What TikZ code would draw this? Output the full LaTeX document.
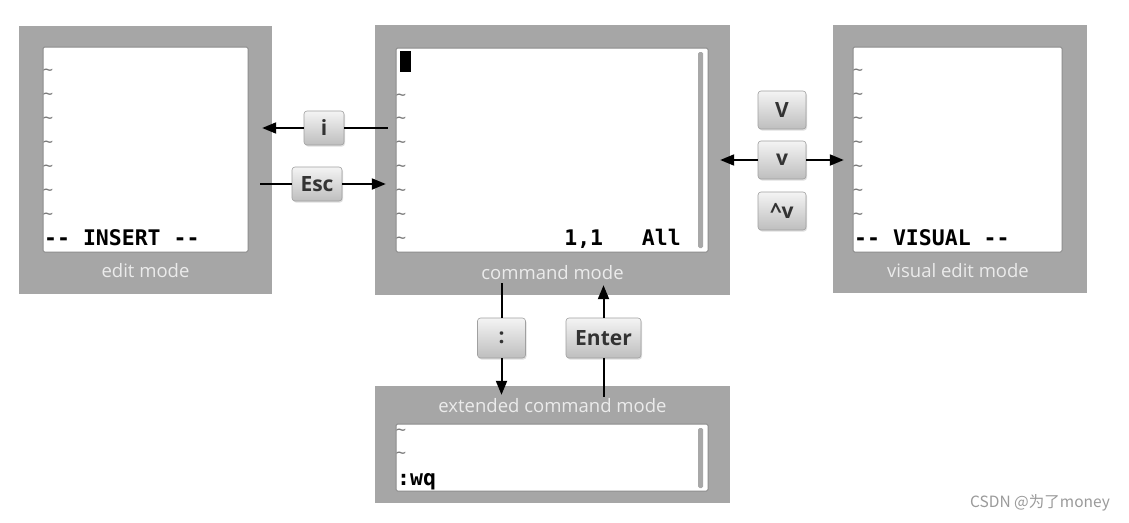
\documentclass[tikz,border=0pt]{standalone}
\usepackage{fontspec}
\setmainfont{Open Sans}
\newfontfamily\monofont{DejaVu Sans Mono}
\newfontfamily\cjk{Noto Sans CJK SC}
\usetikzlibrary{arrows.meta,shadows}
\definecolor{framegray}{HTML}{A6A6A6}
\definecolor{labelgray}{HTML}{EBEBEB}
\definecolor{screenedge}{HTML}{8A8A8A}
\definecolor{tildegray}{HTML}{7A7A7A}
\definecolor{scrollgray}{HTML}{A8A8A8}
\definecolor{keytop}{HTML}{F4F4F4}
\definecolor{keybot}{HTML}{BEBEBE}
\definecolor{keyedge}{HTML}{A0A0A0}
\definecolor{keytext}{HTML}{333333}
\definecolor{wmgray}{HTML}{9A9A9A}
\begin{document}
\begin{tikzpicture}[x=1pt,y=-1pt,
  frame/.style={fill=framegray, draw=none, inner sep=0},
  screen/.style={fill=white, draw=screenedge, line width=1pt, rounded corners=1.5pt, inner sep=0},
  flabel/.style={text=labelgray, font=\fontsize{18.5}{18.5}\selectfont, inner sep=0},
  mono/.style={font=\monofont\bfseries\fontsize{21.5}{21.5}\selectfont, text=black, inner sep=0},
  tilde/.style={font=\monofont\fontsize{17}{17}\selectfont, text=tildegray, inner sep=0},
  keybox/.style={rounded corners=3pt, top color=keytop, bottom color=keybot, draw=keyedge,
    line width=0.6pt, font=\bfseries\fontsize{21}{21}\selectfont, text=keytext, inner sep=0,
    drop shadow={opacity=0.25, shadow xshift=1pt, shadow yshift=-1.5pt}},
  ln/.style={line width=2pt, draw=black},
  arr/.style={line width=2pt, draw=black, -{Triangle[length=14pt,width=11pt]}}
]
\useasboundingbox[fill=white] (0,0) rectangle (1129,522);

% ---------- edit mode ----------
\node[frame, minimum width=253pt, minimum height=268pt] (ins) at (145.5,160) {};
\node[screen, minimum width=205pt, minimum height=205pt] (insS) at (145.5,149.5) {};
\node[flabel] (insL) at (145.5,271) {edit mode};
\foreach \yy [count=\k] in {72,96,120,144,168,192,216}
  \node[tilde] (tI\k) at (48,\yy) {\textasciitilde};
\node[mono, anchor=base west] (insM) at (44,245) {-{}- INSERT -{}-};

% ---------- command mode ----------
\node[frame, minimum width=355pt, minimum height=270pt] (cmd) at (552.5,160) {};
\node[screen, minimum width=312pt, minimum height=204pt] (cmdS) at (552,150) {};
\node[flabel] (cmdL) at (552.5,273) {command mode};
\node[fill=black, minimum width=11pt, minimum height=21pt, inner sep=0] (cursor) at (405,61.5) {};
\foreach \yy [count=\k] in {97,120,144,168,192,216,240}
  \node[tilde] (tC\k) at (401,\yy) {\textasciitilde};
\node[fill=scrollgray, minimum width=5pt, minimum height=196pt, inner sep=0, rounded corners=1.5pt] (cmdScroll) at (700.5,150) {};
\node[mono, anchor=base east] (pos) at (681,245) {1,1\ \ \ All};

% ---------- visual edit mode ----------
\node[frame, minimum width=254pt, minimum height=268pt] (vis) at (960,159) {};
\node[screen, minimum width=209pt, minimum height=205pt] (visS) at (957.5,149.5) {};
\node[flabel] (visL) at (958,271) {visual edit mode};
\foreach \yy [count=\k] in {72,96,120,144,168,192,216}
  \node[tilde] (tV\k) at (858,\yy) {\textasciitilde};
\node[mono, anchor=base west] (visM) at (854,245) {-{}- VISUAL -{}-};

% ---------- extended command mode ----------
\node[frame, minimum width=355pt, minimum height=117pt] (ext) at (552.5,444.5) {};
\node[flabel] (extL) at (552.5,406) {extended command mode};
\node[screen, minimum width=312pt, minimum height=67pt] (extS) at (552,457.5) {};
\node[tilde] (tE1) at (401,432) {\textasciitilde};
\node[tilde] (tE2) at (401,455) {\textasciitilde};
\node[fill=scrollgray, minimum width=5pt, minimum height=60pt, inner sep=0, rounded corners=1.5pt] (extScroll) at (700.5,458) {};
\node[mono, anchor=base west] (wq) at (397,485) {:wq};

% ---------- keys ----------
\node[keybox, minimum width=40pt, minimum height=34pt] (ikey) at (324,128) {i};
\node[keybox, minimum width=50pt, minimum height=34pt] (esc) at (317,184) {Esc};
\node[keybox, minimum width=48pt, minimum height=38pt] (Vkey) at (782,110) {V};
\node[keybox, minimum width=48pt, minimum height=38pt] (vkey) at (782,160) {v};
\node[keybox, minimum width=48pt, minimum height=38pt] (cvkey) at (782,211) {\textasciicircum v};
\node[keybox, minimum width=48pt, minimum height=40pt] (colon) at (501.5,338) {:};
\node[keybox, minimum width=75pt, minimum height=40pt] (enter) at (603.5,338) {Enter};

% ---------- connector end points ----------
\coordinate (cmdW1) at ([xshift=13pt]cmd.west);
\coordinate (cmdW2) at ([xshift=11pt]cmd.west);
\coordinate (insE1) at ([xshift=-10pt]ins.east);
\coordinate (insE2) at ([xshift=-12pt]ins.east);
\coordinate (cmdE) at ([xshift=-10pt]cmd.east);
\coordinate (visW) at ([xshift=11pt]vis.west);
\coordinate (cmdB1) at ([yshift=12pt]cmd.south);
\coordinate (cmdB2) at ([yshift=10pt]cmd.south);
\coordinate (extT1) at ([yshift=-9pt]ext.north);
\coordinate (extT2) at ([yshift=-11pt]ext.north);

% ---------- connectors ----------
\draw[ln] (cmdW1 |- ikey.east) -- (ikey.east);
\draw[arr] (ikey.west) -- (insE1 |- ikey.west);
\draw[ln] (insE2 |- esc.west) -- (esc.west);
\draw[arr] (esc.east) -- (cmdW2 |- esc.east);
\draw[arr] (vkey.west) -- (cmdE |- vkey.west);
\draw[arr] (vkey.east) -- (visW |- vkey.east);
\draw[ln] (colon.north |- cmdB1) -- (colon.north);
\draw[arr] (colon.south) -- (colon.south |- extT1);
\draw[ln] (enter.south |- extT2) -- (enter.south);
\draw[arr] (enter.north) -- (enter.north |- cmdB2);

% ---------- watermark ----------
\node[font=\cjk\fontsize{15.5}{15.5}\selectfont, text=wmgray, inner sep=0] (wm) at (1040,503) {CSDN @为了money};
\end{tikzpicture}
\end{document}
